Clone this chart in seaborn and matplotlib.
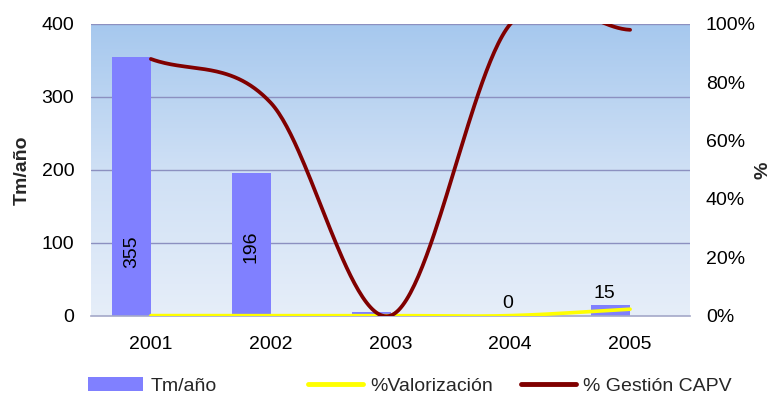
import numpy as np
import pandas as pd
import matplotlib
matplotlib.use("Agg")
import matplotlib.pyplot as plt
from matplotlib.colors import LinearSegmentedColormap
from matplotlib.patches import Patch
from matplotlib.lines import Line2D
import seaborn as sns

# ---- data ----
years = ["2001", "2002", "2003", "2004", "2005"]
toneladas = [355, 196, 5, 0, 15]          # Tm/año
pct_valorizacion = [0.0, 0.0, 0.0, 0.0, 2.2]
pct_gestion = [88, 73, 0, 100, 98]       # % Gestión CAPV
bar_labels = ["355", "196", "", "0", "15"]
left_ticks = [0, 100, 200, 300, 400]
right_ticks = [0, 20, 40, 60, 80, 100]

sns.set_theme(style="white")
plt.rcParams["font.family"] = ["Liberation Sans", "DejaVu Sans"]

W, H = 772, 396
fig = plt.figure(figsize=(W / 100, H / 100), dpi=100)
x0, x1, y_top, y_bot = 91, 690, 24, 315.6
rect = [x0 / W, 1 - y_bot / H, (x1 - x0) / W, (y_bot - y_top) / H]

# gradient plot-area background
bg = fig.add_axes(rect, zorder=0)
grad = np.linspace(0, 1, 256)[:, None]
cmap = LinearSegmentedColormap.from_list("fondo", ["#E6EEF9", "#CFE0F5", "#A6C8EE"])
bg.imshow(grad, extent=[0, 1, 0, 1], origin="lower", cmap=cmap, aspect="auto")
bg.set_axis_off()

ax = fig.add_axes(rect, zorder=1)
ax.set_facecolor("none")

grid_col = "#8C90C0"
for v in left_ticks[1:]:
    ax.axhline(v, color=grid_col, lw=1, zorder=1)

df = pd.DataFrame({"Año": years, "Tm": toneladas, "serie": "Tm/año"})
sns.barplot(data=df, x="Año", y="Tm", hue="serie", hue_order=["Tm/año", "vacío"],
            palette={"Tm/año": "#8080FF", "vacío": "#8080FF"}, dodge=True,
            width=0.65, gap=0, saturation=1, legend=False, ax=ax, zorder=2,
            linewidth=0, errorbar=None)

ax.set_xlim(-0.5, 4.5)
ax.set_ylim(0, 400)
ax.set_yticks(left_ticks)
ax.set_xlabel("")
ax.set_ylabel("")
for s in ["top", "left", "right"]:
    ax.spines[s].set_visible(False)
ax.spines["bottom"].set_color("#A4A8C8")
ax.spines["bottom"].set_linewidth(1.2)
ax.tick_params(axis="y", length=0, labelsize=14, pad=12, colors="black")
ax.tick_params(axis="x", length=0, labelsize=14, pad=15, colors="black")

# bar value labels
bars = ax.containers[0]
label_style = {
    "355": dict(y=87, rot=90, dx=0),
    "196": dict(y=95, rot=90, dx=0),
    "0": dict(y=17, rot=0, dx=0.14),
    "15": dict(y=31, rot=0, dx=-0.05),
}
for rectb, lab in zip(bars.patches, bar_labels):
    if not lab:
        continue
    st = label_style[lab]
    cx = rectb.get_x() + rectb.get_width() / 2 + st["dx"]
    ax.text(cx, st["y"], lab, rotation=st["rot"], ha="center", va="center",
            fontsize=14, color="black", zorder=5)


def smooth(values, n=60):
    """Bezier smoothing through the points with Catmull-Rom tangents."""
    p = np.asarray(values, dtype=float)
    last = len(p) - 1
    xs_all, ys_all = [], []
    for i in range(last):
        if i == 0:
            c1 = p[0] + (p[1] - p[0]) / 3
        else:
            c1 = p[i] + (p[i + 1] - p[i - 1]) / 6
        if i + 1 == last:
            c2 = p[last] - (p[last] - p[last - 1]) / 3
        else:
            c2 = p[i + 1] - (p[i + 2] - p[i]) / 6
        t = np.linspace(0, 1, n, endpoint=(i == last - 1))
        y = ((1 - t) ** 3 * p[i] + 3 * (1 - t) ** 2 * t * c1
             + 3 * (1 - t) * t ** 2 * c2 + t ** 3 * p[i + 1])
        xs_all.append(i + t)
        ys_all.append(y)
    return np.concatenate(xs_all), np.concatenate(ys_all)


ax2 = ax.twinx()
ax2.set_zorder(3)
xs, ys = smooth(pct_valorizacion)
sns.lineplot(x=xs, y=ys, ax=ax2, color="#FFFF00", lw=2.6, sort=False)
xs, ys = smooth(pct_gestion)
sns.lineplot(x=xs, y=ys, ax=ax2, color="#800000", lw=2.7, sort=False)
ax2.set_ylim(0, 100)
ax2.set_xlim(-0.5, 4.5)
ax2.set_yticks(right_ticks)
ax2.set_yticklabels([f"{v}%" for v in right_ticks])
ax2.tick_params(axis="y", length=0, labelsize=14, pad=11.5, colors="black")
for s in ax2.spines.values():
    s.set_visible(False)

fig.text(22 / W, 1 - 170 / H, "Tm/año", rotation=90, ha="center", va="center",
         fontsize=14, fontweight="bold")
fig.text(763 / W, 1 - 170 / H, "%", rotation=90, ha="center", va="center",
         fontsize=14, fontweight="bold")

# legend entries along the bottom
entries = [
    (88, Patch(facecolor="#8080FF", edgecolor="none"), "Tm/año"),
    (308, Line2D([], [], color="#FFFF00", lw=3.5), "%Valorización"),
    (521, Line2D([], [], color="#800000", lw=3.5), "% Gestión CAPV"),
]
for xpos, handle, text in entries:
    fig.legend([handle], [text], loc="center left",
               bbox_to_anchor=(xpos / W, 1 - 386 / H), frameon=False,
               fontsize=14, handlelength=2.85, handletextpad=0.35,
               borderpad=0, borderaxespad=0)

fig.savefig("out.png", dpi=100)
